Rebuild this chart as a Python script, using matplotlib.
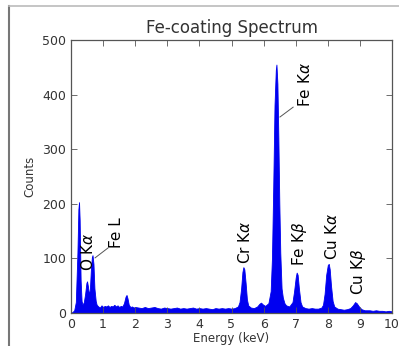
import matplotlib
matplotlib.use("Agg")
import matplotlib.pyplot as plt
from matplotlib.lines import Line2D

energy = [0.00, 0.05, 0.10, 0.15, 0.20, 0.23, 0.25, 0.27, 0.30, 0.33, 0.36, 0.40, 0.44, 0.48, 0.50,
          0.53, 0.56, 0.59, 0.62, 0.65, 0.67, 0.70, 0.73, 0.77, 0.80, 0.85, 0.90, 0.95, 1.00, 1.05,
          1.10, 1.15, 1.20, 1.25, 1.30, 1.35, 1.40, 1.45, 1.50, 1.55, 1.60, 1.65, 1.70, 1.73, 1.76,
          1.80, 1.85, 1.90, 1.95, 2.00, 2.1, 2.2, 2.3, 2.4, 2.5, 2.6, 2.7, 2.8, 2.9, 3.0, 3.1, 3.2,
          3.3, 3.4, 3.5, 3.6, 3.7, 3.8, 3.9, 4.0, 4.1, 4.2, 4.3, 4.4, 4.5, 4.6, 4.7, 4.8, 4.9, 5.0,
          5.1, 5.2, 5.25, 5.30, 5.34, 5.37, 5.40, 5.44, 5.48, 5.52, 5.6, 5.7, 5.8, 5.87, 5.92, 5.97,
          6.05, 6.15, 6.22, 6.26, 6.30, 6.34, 6.38, 6.40, 6.43, 6.46, 6.49, 6.52, 6.56, 6.60, 6.65,
          6.7, 6.8, 6.9, 6.95, 7.00, 7.03, 7.06, 7.10, 7.15, 7.2, 7.3, 7.4, 7.5, 7.6, 7.7, 7.8, 7.85,
          7.90, 7.95, 8.00, 8.03, 8.06, 8.10, 8.15, 8.2, 8.3, 8.4, 8.5, 8.6, 8.7, 8.78, 8.85, 8.9,
          8.97, 9.05, 9.15, 9.3, 9.4, 9.5, 9.6, 9.7, 9.8, 9.9, 10.0]
counts = [0, 2, 5, 20, 110, 190, 203, 170, 60, 22, 15, 20, 35, 55, 58,
          48, 32, 45, 80, 102, 106, 90, 45, 22, 15, 12, 10, 14, 11, 13,
          12, 14, 11, 13, 12, 15, 12, 14, 11, 13, 12, 18, 30, 33, 27,
          15, 11, 12, 10, 11, 10, 9, 11, 9, 10, 11, 9, 8, 10, 9, 8, 9,
          10, 8, 9, 8, 9, 10, 8, 9, 8, 9, 8, 7, 9, 8, 9, 8, 9, 8,
          9, 12, 20, 45, 75, 84, 80, 55, 25, 14, 10, 9, 12, 17, 19, 16,
          13, 18, 40, 100, 230, 380, 445, 455, 420, 320, 200, 110, 45, 28, 18,
          14, 12, 20, 40, 65, 74, 70, 45, 20, 12, 9, 8, 9, 8, 8, 10, 15,
          35, 70, 88, 90, 80, 50, 22, 12, 8, 7, 6, 7, 9, 14, 20, 18,
          12, 7, 5, 5, 4, 5, 4, 4, 3, 4, 3]

peak_labels = [r"O K$\alpha$", "Fe L", r"Fe K$\alpha$", r"Cr K$\alpha$", r"Fe K$\beta$", r"Cu K$\alpha$", r"Cu K$\beta$"]
label_x = [0.53, 1.43, 7.29, 5.42, 7.13, 8.13, 8.97]
label_y = [112, 148, 418, 130, 126, 141, 75]

x_ticks = [0, 1, 2, 3, 4, 5, 6, 7, 8, 9, 10]
y_ticks = [0, 100, 200, 300, 400, 500]

fig = plt.figure(figsize=(3.99, 3.46), dpi=100)
ax = fig.add_axes([71/399, 1-313/346, (392-71)/399, (313-40)/346])

ax.fill_between(energy, counts, 0, color="#0000f0", lw=0.6, edgecolor="#0000f0")

ax.set_xlim(0, 10)
ax.set_ylim(0, 500)
ax.set_xticks(x_ticks)
ax.set_yticks(y_ticks)
ax.tick_params(direction="in", top=True, right=True, length=4, width=0.6,
               labelsize=9, colors="#555555", labelcolor="#333333")
for s in ax.spines.values():
    s.set_color("#555555")
    s.set_linewidth(0.9)

ax.set_title("Fe-coating Spectrum", fontsize=12, color="#333333", pad=5)
ax.set_xlabel("Energy (keV)", fontsize=8.5, color="#333333", labelpad=1)
ax.set_ylabel("Counts", fontsize=8.5, color="#333333", labelpad=4)

for t, x, y in zip(peak_labels, label_x, label_y):
    ax.text(x, y, t, rotation=90, ha="center", va="center", fontsize=11, color="black")

ax.plot([0.75, 1.15], [101, 119], color="#555555", lw=0.7)
ax.plot([6.51, 6.92], [359, 377], color="#555555", lw=0.7)

fig.add_artist(Line2D([9/399, 9/399], [0, 1-6/346], transform=fig.transFigure, color="#777777", lw=1.5))
fig.add_artist(Line2D([9/399, 1], [1-6/346, 1-6/346], transform=fig.transFigure, color="#bbbbbb", lw=1.2))

fig.savefig("out.png", dpi=100)
